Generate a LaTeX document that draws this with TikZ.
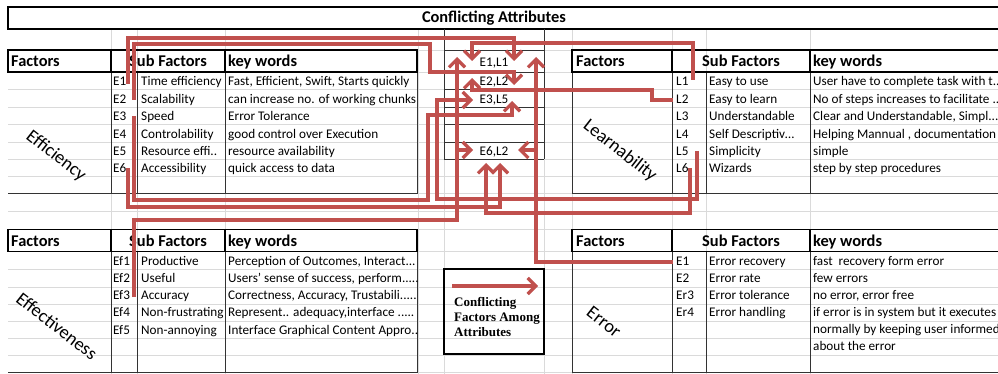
\documentclass[tikz,border=0pt]{standalone}
\usepackage{fontspec}
\setmainfont{Carlito}
\newfontfamily\legendfont{Liberation Serif}
\usetikzlibrary{arrows.meta}
\definecolor{linkred}{RGB}{192,80,77}
\definecolor{gridgray}{RGB}{218,218,218}
\begin{document}
\begin{tikzpicture}[x=1pt, y=-1pt,
  celltext/.style={inner sep=0pt, anchor=base west, font=\fontsize{13.2}{15}\selectfont},
  pairtext/.style={inner sep=0pt, anchor=base, font=\fontsize{13.2}{15}\selectfont},
  headtext/.style={inner sep=0pt, anchor=base west, font=\fontsize{16.4}{18}\selectfont\bfseries},
  attrtext/.style={inner sep=0pt, rotate=-38, font=\fontsize{18.5}{20}\selectfont},
  legendtext/.style={inner sep=0pt, anchor=base west, font=\legendfont\fontsize{13}{15}\selectfont\bfseries},
  gridline/.style={draw=gridgray, line width=0.8pt},
  bodyframe/.style={draw=black!80, line width=0.9pt},
  headframe/.style={draw=black, line width=1.6pt},
  link/.style={draw=linkred, line width=3.3pt},
  linkarrow/.style={link, -{Straight Barb[length=8pt, width=16pt]}},
]
\useasboundingbox (0,0) rectangle (998,374);
\fill[white] (0,0) rectangle (998,374);

% spreadsheet grid
\foreach \gx in {111,137,225,418,444,544,572,672,706,810}
  \draw[gridline] (\gx,29) -- (\gx,374);
\foreach \gy in {29,50,72,89.5,107,124.5,142,159,176,193,211,229.5,251.5,269.5,287,304,321,338,355,372}
  \draw[gridline] (8,\gy) -- (1002,\gy);

% title bar
\draw[headframe] (8,7) rectangle (1004,29);
\node[headtext, anchor=base] (title) at (494,22.5) {Conflicting Attributes};

% ---------- Efficiency table ----------
\draw[bodyframe] (8,193) -- (417,193) -- (417,72);
\foreach \vx in {111,137,225} \draw[bodyframe] (\vx,72) -- (\vx,193);
\draw[headframe] (8,50) rectangle (417,72);
\draw[headframe] (111,50) -- (111,72) (225,50) -- (225,72);
\node[headtext] (effH1) at (11,67) {Factors};
\node[headtext, anchor=base] (effH2) at (168,67) {Sub Factors};
\node[headtext] (effH3) at (228,67) {key words};
\node[attrtext] (effName) at (56,156) {Efficiency};
\node[celltext] (effC1) at (113,86)    {E1};
\node[celltext] (effC2) at (113,103.4) {E2};
\node[celltext] (effC3) at (113,120.8) {E3};
\node[celltext] (effC4) at (113,138.2) {E4};
\node[celltext] (effC5) at (113,155.6) {E5};
\node[celltext] (effC6) at (113,173)   {E6};
\node[celltext] (effS1) at (141,86)    {Time efficiency};
\node[celltext] (effS2) at (141,103.4) {Scalability};
\node[celltext] (effS3) at (141,120.8) {Speed};
\node[celltext] (effS4) at (141,138.2) {Controlability};
\node[celltext] (effS5) at (141,155.6) {Resource effi..};
\node[celltext] (effS6) at (141,173)   {Accessibility};
\node[celltext] (effK1) at (228,86)    {Fast, Efficient, Swift, Starts quickly};
\node[celltext] (effK2) at (228,103.4) {can increase no. of working chunks};
\node[celltext] (effK3) at (228,120.8) {Error Tolerance};
\node[celltext] (effK4) at (228,138.2) {good control over Execution};
\node[celltext] (effK5) at (228,155.6) {resource availability};
\node[celltext] (effK6) at (228,173)   {quick access to data};

% ---------- Learnability table ----------
\draw[bodyframe] (572,72) -- (572,193) -- (1004,193);
\foreach \vx in {672,706,810} \draw[bodyframe] (\vx,72) -- (\vx,193);
\draw[headframe] (572,50) rectangle (1004,72);
\draw[headframe] (672,50) -- (672,72) (810,50) -- (810,72);
\node[headtext] (lrnH1) at (576,67) {Factors};
\node[headtext, anchor=base] (lrnH2) at (741,67) {Sub Factors};
\node[headtext] (lrnH3) at (813,67) {key words};
\node[attrtext] (lrnName) at (620,151) {Learnability};
\node[celltext] (lrnC1) at (676,86)    {L1};
\node[celltext] (lrnC2) at (676,103.4) {L2};
\node[celltext] (lrnC3) at (676,120.8) {L3};
\node[celltext] (lrnC4) at (676,138.2) {L4};
\node[celltext] (lrnC5) at (676,155.6) {L5};
\node[celltext] (lrnC6) at (676,173)   {L6};
\node[celltext] (lrnS1) at (709,86)    {Easy to use};
\node[celltext] (lrnS2) at (709,103.4) {Easy to learn};
\node[celltext] (lrnS3) at (709,120.8) {Understandable};
\node[celltext] (lrnS4) at (709,138.2) {Self Descriptiv\dots};
\node[celltext] (lrnS5) at (709,155.6) {Simplicity};
\node[celltext] (lrnS6) at (709,173)   {Wizards};
\node[celltext] (lrnK1) at (813,86)    {User have to complete task with t..};
\node[celltext] (lrnK2) at (813,103.4) {No of steps increases to facilitate ..};
\node[celltext] (lrnK3) at (813,120.8) {Clear and Understandable, Simpl...};
\node[celltext] (lrnK4) at (813,138.2) {Helping Mannual , documentation};
\node[celltext] (lrnK5) at (813,155.6) {simple};
\node[celltext] (lrnK6) at (813,173)   {step by step procedures};

% ---------- Effectiveness table ----------
\draw[bodyframe] (8,372) -- (417,372) -- (417,251.5);
\foreach \vx in {111,137,225} \draw[bodyframe] (\vx,251.5) -- (\vx,372);
\draw[headframe] (8,229.5) rectangle (417,251.5);
\draw[headframe] (111,229.5) -- (111,251.5) (225,229.5) -- (225,251.5);
\node[headtext] (etvH1) at (11,246) {Factors};
\node[headtext, anchor=base] (etvH2) at (168,246) {Sub Factors};
\node[headtext] (etvH3) at (228,246) {key words};
\node[attrtext] (etvName) at (57,326) {Effectiveness};
\node[celltext] (etvC1) at (113,265)    {Ef1};
\node[celltext] (etvC2) at (113,282.25) {Ef2};
\node[celltext] (etvC3) at (113,299.5)  {Ef3};
\node[celltext] (etvC4) at (113,316.75) {Ef4};
\node[celltext] (etvC5) at (113,334)    {Ef5};
\node[celltext] (etvS1) at (141,265)    {Productive};
\node[celltext] (etvS2) at (141,282.25) {Useful};
\node[celltext] (etvS3) at (141,299.5)  {Accuracy};
\node[celltext] (etvS4) at (141,316.75) {Non-frustrating};
\node[celltext] (etvS5) at (141,334)    {Non-annoying};
\node[celltext] (etvK1) at (228,265)    {Perception of Outcomes, Interact...};
\node[celltext] (etvK2) at (228,282.25) {Users’ sense of success, perform.....};
\node[celltext] (etvK3) at (228,299.5)  {Correctness, Accuracy, Trustabili.....};
\node[celltext] (etvK4) at (228,316.75) {Represent.. adequacy,interface .....};
\node[celltext] (etvK5) at (228,334)    {Interface Graphical Content Appro..};

% ---------- Error table ----------
\draw[bodyframe] (572,251.5) -- (572,372) -- (1004,372);
\foreach \vx in {672,706,810} \draw[bodyframe] (\vx,251.5) -- (\vx,372);
\draw[headframe] (572,229.5) rectangle (1004,251.5);
\draw[headframe] (672,229.5) -- (672,251.5) (810,229.5) -- (810,251.5);
\node[headtext] (errH1) at (576,246) {Factors};
\node[headtext, anchor=base] (errH2) at (741,246) {Sub Factors};
\node[headtext] (errH3) at (813,246) {key words};
\node[attrtext] (errName) at (604,322) {Error};
\node[celltext] (errC1) at (676,265.5) {E1};
\node[celltext] (errC2) at (676,282.5) {E2};
\node[celltext] (errC3) at (676,299.5) {Er3};
\node[celltext] (errC4) at (676,316.5) {Er4};
\node[celltext] (errS1) at (709,265.5) {Error recovery};
\node[celltext] (errS2) at (709,282.5) {Error rate};
\node[celltext] (errS3) at (709,299.5) {Error tolerance};
\node[celltext] (errS4) at (709,316.5) {Error handling};
\node[celltext] (errK1) at (813,265.5) {fast\ \ recovery form error};
\node[celltext] (errK2) at (813,282.5) {few errors};
\node[celltext] (errK3) at (813,299.5) {no error, error free};
\node[celltext] (errK4) at (813,316.5) {if error is in system but it executes};
\node[celltext] (errK5) at (813,333.5) {normally by keeping user informed};
\node[celltext] (errK6) at (813,350.5) {about the error};

% ---------- conflict column ----------
\draw[bodyframe] (444,29) -- (444,159) (544,29) -- (544,159);
\foreach \hy in {50,72,89.5,107,124.5,142,159} \draw[bodyframe] (444,\hy) -- (544,\hy);
\node[pairtext] (pairA) at (494,67)  {E1,L1};
\node[pairtext] (pairB) at (494,86)  {E2,L2};
\node[pairtext] (pairC) at (494,104) {E3,L5};
\node[pairtext] (pairD) at (494,156) {E6,L2};

% ---------- legend ----------
\node[draw, line width=2.2pt, minimum width=100pt, minimum height=85pt, inner sep=0pt] (legend) at (494,311.5) {};
\coordinate (legFrom) at (452,286);
\coordinate (legTo) at (538,286);
\draw[linkarrow] (legFrom) -- (legTo);
\node[legendtext] (legL1) at (454,306) {Conflicting};
\node[legendtext] (legL2) at (454,321) {Factors Among};
\node[legendtext] (legL3) at (454,336) {Attributes};

% ---------- connector ends ----------
\coordinate (fromE1)  at (128,84);
\coordinate (fromE2)  at (134,100);
\coordinate (fromE3)  at (134,116);
\coordinate (fromE6)  at (128,168);
\coordinate (fromEf3) at (134,297);
\coordinate (fromL1)  at (693,80);
\coordinate (fromL2)  at (673,100);
\coordinate (fromL5)  at (697,151);
\coordinate (fromL6)  at (690,168);
\coordinate (fromEr1) at (673,262);

\coordinate (toA1) at (514,61);   % E1 -> E1,L1
\coordinate (toA2) at (472,61);   % L1 -> E1,L1
\coordinate (toA3) at (457,57);   % Ef3 -> E1,L1
\coordinate (toA4) at (536,57);   % E1 (error) -> E1,L1
\coordinate (toB1) at (514,85);   % E2 -> E2,L2
\coordinate (toB2) at (472,78);   % L2 -> E2,L2
\coordinate (toC1) at (473,100);  % L5 -> E3,L5
\coordinate (toC2) at (512,101);  % E3 -> E3,L5
\coordinate (toD1) at (473,150);  % from left -> E6,L2
\coordinate (toD2) at (518,150);  % from right -> E6,L2
\coordinate (toD3) at (486,163);  % L6 -> E6,L2
\coordinate (toD4) at (500,163);  % E6 -> E6,L2
\coordinate (forkEf3) at (457,150);
\coordinate (forkEr1) at (536,150);

% ---------- conflict connectors ----------
\draw[linkarrow] (fromE1) -- (128,38) -| (toA1);
\draw[linkarrow] (fromL1) -- (693,43) -| (toA2);
\draw[linkarrow] (fromE2) -- (134,44) -| (430,72) -| (toB1);
\draw[linkarrow] (fromL2) -- (652,100) -- (652,90) -| (toB2);
\draw[linkarrow] (fromE3) -- (134,200) -| (428,115) -| (toC2);
\draw[linkarrow] (fromL5) -- (697,199) -| (437,100) -- (toC1);
\draw[linkarrow] (fromE6) -- (128,207) -| (toD4);
\draw[linkarrow] (fromL6) -- (690,213) -| (toD3);
\draw[linkarrow] (fromEf3) -- (134,220) -| (toA3);
\draw[linkarrow] (forkEf3) -- (toD1);
\draw[linkarrow] (fromEr1) -| (toA4);
\draw[linkarrow] (forkEr1) -- (toD2);
\end{tikzpicture}
\end{document}
